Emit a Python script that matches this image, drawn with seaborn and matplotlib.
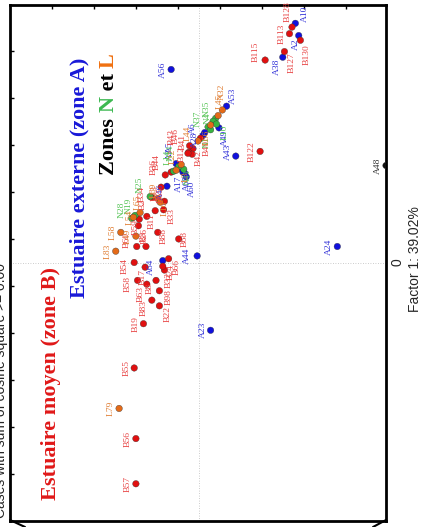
import matplotlib
matplotlib.use("Agg")
import pandas as pd
import matplotlib.pyplot as plt
import seaborn as sns
from matplotlib.lines import Line2D

# Factor scores read off the (rotated) biplot. Factor 1 goes up the page,
# Factor 2 goes to the left of the page.

# zone A (estuaire externe)
a_labels = ["A10", "A2", "A38", "A53", "A49", "A43", "A24", "A23", "A56", "A44",
            "A64", "A6", "A28", "A3", "A17", "A65", "A60", "A46", "A5"]
a_f1 = [2.54, 2.41, 2.18, 1.66, 1.43, 1.13, 0.17, -0.72, 2.05, 0.07,
        0.02, 1.38, 1.35, 1.00, 0.96, 0.95, 0.91, 0.81, 1.05]
a_f2 = [-1.15, -1.19, -1.00, -0.33, -0.24, -0.44, -1.65, -0.14, 0.33, 0.02,
        0.43, -0.07, -0.05, 0.22, 0.19, 0.17, 0.15, 0.38, 0.27]

# zone B (estuaire moyen)
b_labels = ["B128", "B113", "B130", "B127", "B115", "B122", "B40", "B42", "B41", "B12",
            "B43", "B46", "B44", "B36", "B13", "B34", "B65", "B2", "B33", "B11",
            "B59", "B88", "B26", "B68", "B60", "B3", "B66", "B54", "B17", "B32",
            "B58", "B8", "B63", "B24", "B98", "B83", "B22", "B19", "B55", "B56", "B57"]
b_f1 = [2.50, 2.43, 2.36, 2.24, 2.15, 1.18, 1.32, 1.21, 1.17, 1.15,
        1.16, 1.24, 0.96, 0.93, 0.80, 0.69, 0.65, 0.49, 0.56, 0.55,
        0.46, 0.32, 0.39, 0.25, 0.17, 0.17, 0.04, 0.00, -0.05, -0.08,
        -0.19, -0.19, -0.23, -0.04, -0.30, -0.40, -0.46, -0.65, -1.12, -1.87, -2.35]
b_f2 = [-1.11, -1.08, -1.21, -1.02, -0.79, -0.73, -0.02, 0.07, 0.12, 0.08,
        0.13, 0.11, 0.33, 0.40, 0.45, 0.56, 0.41, 0.62, 0.42, 0.52,
        0.71, 0.49, 0.72, 0.24, 0.74, 0.63, 0.36, 0.77, 0.64, 0.41,
        0.73, 0.51, 0.62, 0.43, 0.47, 0.56, 0.47, 0.66, 0.77, 0.75, 0.75]

# zone N
n_labels = ["N4", "N35", "N37", "L10", "N1", "N41", "N14", "N25", "N19", "N28", "L14"]
n_f1 = [1.53, 1.50, 1.44, 1.47, 1.41, 0.99, 1.02, 0.70, 0.50, 0.47, 0.97]
n_f2 = [-0.20, -0.17, -0.11, -0.21, -0.14, 0.18, 0.24, 0.58, 0.76, 0.80, 0.30]

# zone L
l_labels = ["N32", "L45", "L66", "L44", "L3", "L22", "L69", "L16", "L65", "L54",
            "L49", "L58", "L83", "L79"]
l_f1 = [1.62, 1.56, 1.46, 1.29, 1.04, 0.98, 0.68, 0.64, 0.53, 0.48,
        0.28, 0.32, 0.12, -1.55]
l_f2 = [-0.28, -0.23, -0.14, 0.01, 0.21, 0.27, 0.49, 0.46, 0.70, 0.78,
        0.75, 0.93, 0.99, 0.95]

# point sitting on the frame
o_labels = ["A48"]
o_f1 = [1.03]
o_f2 = [-2.23]

df = pd.concat([
    pd.DataFrame({"label": a_labels, "f1": a_f1, "f2": a_f2, "zone": "A"}),
    pd.DataFrame({"label": b_labels, "f1": b_f1, "f2": b_f2, "zone": "B"}),
    pd.DataFrame({"label": n_labels, "f1": n_f1, "f2": n_f2, "zone": "N"}),
    pd.DataFrame({"label": l_labels, "f1": l_f1, "f2": l_f2, "zone": "L"}),
    pd.DataFrame({"label": o_labels, "f1": o_f1, "f2": o_f2, "zone": "O"}),
], ignore_index=True)

point_colors = {"A": "#1010dc", "B": "#e01010", "N": "#38b440", "L": "#e46a18", "O": "#111111"}
text_colors = {"A": "#3434d8", "B": "#e84444", "N": "#56c456", "L": "#e07e34", "O": "#333333"}

# label nudges in pixels (right, up) where the default (left of the dot) is not used
nudge = {
    "A10": (10, 10), "B128": (-4, 15), "A2": (-3, -9), "B130": (6, -14),
    "B127": (7, -11), "A38": (-6, -10), "B115": (-9, 8), "A53": (6, 10),
    "N32": (-1, 18), "A49": (6, -10), "A43": (-8, 4), "L10": (8, -8),
    "N1": (-4, -12), "L45": (2, 14), "N35": (-6, 12), "N37": (-10, 8),
    "A6": (-12, 4), "A28": (-8, -4), "L66": (-4, -12), "B40": (6, -10),
    "L44": (-10, 8), "B41": (-6, 10), "B42": (6, -9), "L3": (4, -12),
    "B12": (-10, 0), "B46": (-14, 10), "B43": (-16, 16), "A3": (-10, 14),
    "A17": (-4, -12), "A65": (2, -10), "A60": (6, -12), "A46": (-6, -6),
    "A5": (-6, 16), "N14": (-8, 14), "N41": (4, -8), "B44": (-14, 10),
    "B36": (-12, 8), "L22": (-4, 14), "L14": (-6, 14), "B34": (-10, 4),
    "B13": (-6, -6), "N25": (-10, 12), "L69": (-4, 8), "B65": (-4, 6),
    "L16": (4, -6), "B33": (8, -6), "B11": (-4, -10), "N19": (-6, 10),
    "N28": (-10, 8), "B2": (-4, 12), "L54": (-4, 0), "L65": (-2, 10),
    "B59": (-4, -8), "B88": (6, -4), "L49": (-8, 0), "B26": (6, -10),
    "A64": (-12, -6), "B68": (6, 0), "A44": (-10, 0), "B66": (8, -8),
    "B54": (-10, -4), "B60": (-10, 6), "B3": (-2, 10), "B17": (-2, -10),
    "B32": (4, -10), "B24": (8, -6), "B98": (9, -6), "B22": (8, -8),
    "B83": (-8, -8), "B63": (-6, -10), "B58": (-10, -4), "B8": (-6, -8),
}

fig = plt.figure(figsize=(4.28, 5.27), dpi=100)
W, H = 428, 527
ax = fig.add_axes([10 / W, 1 - 520.5 / H, 376 / W, 516 / H])
sns.set_style("white")

sns.scatterplot(data=df, x="f2", y="f1", hue="zone", palette=point_colors, s=22,
                edgecolor="#333333", linewidth=0.25, legend=False, ax=ax, zorder=3)

for _, r in df.iterrows():
    dx, dy = nudge.get(r["label"], (-8, 0))
    ax.annotate(r["label"], (r["f2"], r["f1"]), xytext=(dx, dy), textcoords="offset pixels",
                rotation=90, ha="center", va="center", fontsize=6.8,
                family="Liberation Serif", color=text_colors[r["zone"]], zorder=4)

ax.set_xlim(2.25, -2.23)
ax.set_ylim(-2.74, 2.74)
ax.axvline(0, color="#bbbbbb", lw=0.6, ls=(0, (1, 2)), zorder=1)
ax.axhline(0, color="#bbbbbb", lw=0.6, ls=(0, (1, 2)), zorder=1)

# ticks sit on the top and left edges, pointing inward, no labels
ticks2 = [1.75, 1.25, 0.75, 0.25, -0.25, -0.75, -1.25, -1.75]
ticks1 = [2.25, 1.75, 1.25, 0.75, 0.25, -0.25, -0.75, -1.25, -1.75, -2.25]
ax.set_xticks(ticks2)
ax.set_yticks(ticks1)
ax.tick_params(axis="x", direction="in", length=3, width=1, bottom=False, top=True,
               labelbottom=False, labeltop=False)
ax.tick_params(axis="y", direction="in", length=3, width=1, left=True, right=False,
               labelleft=False)
ax.set_xlabel("")
ax.set_ylabel("")
for sp in ax.spines.values():
    sp.set_linewidth(2)
    sp.set_color("black")

# little perspective corners under the frame
fig.add_artist(Line2D([10 / W, 25 / W], [1 - 520 / H, 0.0], color="black", lw=1.5))
fig.add_artist(Line2D([386 / W, 373 / W], [1 - 520 / H, 0.0], color="black", lw=1.5))

# zone captions
fig.text(51 / W, 1 - 383 / H, "Estuaire moyen (zone B)", rotation=90, ha="center", va="center",
         color="#e01818", fontsize=16, fontweight="bold", family="Liberation Serif")
fig.text(79 / W, 1 - 178 / H, "Estuaire externe (zone A)", rotation=90, ha="center", va="center",
         color="#1818d8", fontsize=16, fontweight="bold", family="Liberation Serif")

renderer = fig.canvas.get_renderer()
ybase = 175
for piece, col in [("Zones ", "black"), ("N", "#3cb850"), (" et ", "black"), ("L", "#f07010")]:
    t = fig.text(109 / W, 1 - ybase / H, piece, rotation=90, ha="center", va="bottom",
                 color=col, fontsize=16, fontweight="bold", family="Liberation Serif")
    bb = t.get_window_extent(renderer)
    ybase -= bb.height

fig.text(8 / W, 1 - 390 / H, "Cases with sum of cosine square >= 0.00", rotation=90,
         ha="right", va="center", fontsize=10, family="Liberation Sans")
fig.text(398 / W, 1 - 262 / H, "0", rotation=90, ha="center", va="center",
         fontsize=10, family="Liberation Sans")
fig.text(415 / W, 1 - 259 / H, "Factor 1: 39.02%", rotation=90, ha="center", va="center",
         fontsize=10, family="Liberation Sans")

fig.savefig("out.png", dpi=100)
